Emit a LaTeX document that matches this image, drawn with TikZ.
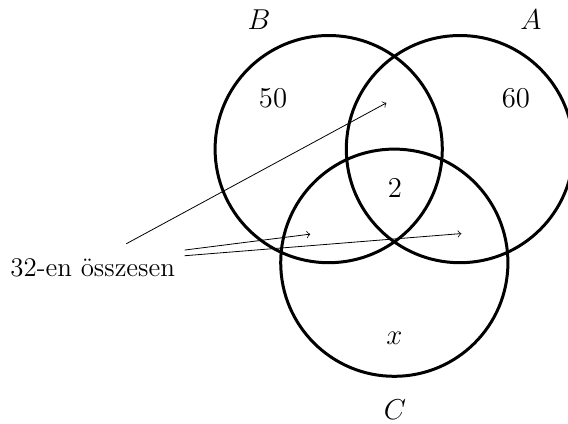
\documentclass[tikz,border=0pt]{standalone}
\usepackage{amsmath}
\usepackage{amssymb}
\usetikzlibrary{positioning}

\begin{document}
\begin{tikzpicture}[scale=1,
  halmaz/.style={circle,draw,line width=1.5pt,inner sep=0pt,minimum size=4cm},
  mutato/.style={->},
  felirat/.style={font=\fontsize{13.5}{16}\selectfont}]

\useasboundingbox (-6.942,-4.155) rectangle (3.058,3.292);

% halmazok
\node[halmaz] (A) at (1.155,0.667) {};
\node[halmaz] (B) at (-1.155,0.667) {};
\node[halmaz] (C) at (0,-1.333) {};

\node[felirat] (nA) at (2.407,2.94) {$A$};
\node[felirat] (nB) at (-2.382,2.94) {$B$};
\node[felirat,inner sep=0.5pt] (nC) at (0.01,-3.92) {$C$};

\node[felirat] (ab) at (-2.135,1.567) {$50$};
\node[felirat] (aa) at (2.142,1.567) {$60$};
\node[felirat] (kozos) at (0.01,-0.02) {$2$};
\node[felirat] (cx) at (0,-2.66) {$x$};

\node[felirat] (ossz) at (-5.31,-1.43) {32-en összesen};

\coordinate (k1) at (-4.72,-1.00);
\coordinate (k2) at (-3.69,-1.11);
\coordinate (k3) at (-3.69,-1.21);
\coordinate (v1) at (-0.14,1.48);
\coordinate (v2) at (-1.48,-0.83);
\coordinate (v3) at (1.18,-0.82);

\draw[mutato] (k1) -- (v1);
\draw[mutato] (k2) -- (v2);
\draw[mutato] (k3) -- (v3);

\end{tikzpicture}
\end{document}
